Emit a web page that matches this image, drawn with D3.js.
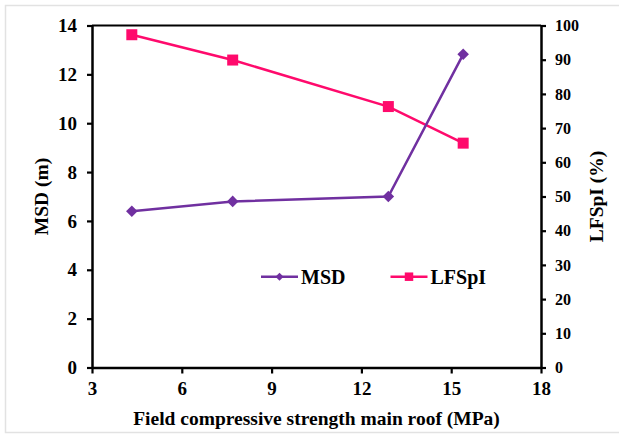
<!DOCTYPE html>
<html>
<head>
<meta charset="utf-8">
<script src="https://cdn.jsdelivr.net/npm/d3@7"></script>
<style>
  html, body { margin: 0; padding: 0; background: #fff; }
  svg { display: block; }
  text { font-family: "Liberation Serif", "Times New Roman", serif; font-weight: bold; fill: #000; }
</style>
</head>
<body>
<svg id="chart" width="619" height="435"></svg>
<script>
// Field compressive strength of the main roof (MPa)
const strength = [4.33, 7.7, 12.9, 15.4];
// Maximum subsidence depth, MSD (m) — left axis
const msd = [6.4, 6.8, 7.0, 12.82];
// LFSpI (%) — right axis
const lfspi = [97.3, 89.9, 76.3, 65.6];

const xTicks = [3, 6, 9, 12, 15, 18];
const yLeftTicks = [0, 2, 4, 6, 8, 10, 12, 14];
const yRightTicks = [0, 10, 20, 30, 40, 50, 60, 70, 80, 90, 100];

const msdColor = "#7030a0";
const lfspiColor = "#ff0a6c";
const serif = '"Liberation Serif", "Times New Roman", serif';

const svg = d3.select("#chart");
const W = 619;
const plot = { left: 92, right: 541, top: 25.5, bottom: 367.5 };

// light frame around the figure
svg.append("path")
  .attr("d", `M${W},5.5 H5.5 V432.5 H${W}`)
  .attr("fill", "none")
  .attr("stroke", "#e2e2e2")
  .attr("stroke-width", 1.5);

const x = d3.scaleLinear().domain([3, 18]).range([plot.left, plot.right]);
const yL = d3.scaleLinear().domain([0, 14]).range([plot.bottom, plot.top]);
const yR = d3.scaleLinear().domain([0, 100]).range([plot.bottom, plot.top]);

// top border of the plot area
svg.append("line")
  .attr("x1", plot.left).attr("x2", plot.right)
  .attr("y1", plot.top).attr("y2", plot.top)
  .attr("stroke", "#000").attr("stroke-width", 2.2);

function styleAxis(size) {
  return g => {
    g.attr("font-family", serif).attr("font-weight", "bold");
    g.select(".domain").attr("stroke", "#000").attr("stroke-width", 2.5);
    g.selectAll(".tick line").attr("stroke", "#000").attr("stroke-width", 2.2);
    g.selectAll(".tick text")
      .style("font-family", serif)
      .style("font-weight", "bold")
      .style("font-size", size + "px")
      .attr("fill", "#000");
  };
}

svg.append("g")
  .attr("transform", `translate(0,${plot.bottom})`)
  .call(d3.axisBottom(x).tickValues(xTicks).tickSize(6).tickPadding(8).tickSizeOuter(0))
  .call(styleAxis(19));

svg.append("g")
  .attr("transform", `translate(${plot.left},0)`)
  .call(d3.axisLeft(yL).tickValues(yLeftTicks).tickSize(5).tickPadding(10).tickSizeOuter(0))
  .call(styleAxis(19));

svg.append("g")
  .attr("transform", `translate(${plot.right},0)`)
  .call(d3.axisRight(yR).tickValues(yRightTicks).tickSize(5).tickPadding(9).tickSizeOuter(0))
  .call(styleAxis(16));

// axis titles
svg.append("text")
  .attr("x", (plot.left + plot.right) / 2)
  .attr("y", 425)
  .attr("text-anchor", "middle")
  .style("font-size", "19.5px")
  .text("Field compressive strength main roof (MPa)");

svg.append("text")
  .attr("transform", `translate(48,${(plot.top + plot.bottom) / 2}) rotate(-90)`)
  .attr("text-anchor", "middle")
  .style("font-size", "19.5px")
  .text("MSD (m)");

svg.append("text")
  .attr("transform", `translate(603,${(plot.top + plot.bottom) / 2}) rotate(-90)`)
  .attr("text-anchor", "middle")
  .style("font-size", "19.5px")
  .text("LFSpI (%)");

// series
const msdData = strength.map((s, i) => [s, msd[i]]);
const lfData = strength.map((s, i) => [s, lfspi[i]]);

svg.append("path")
  .datum(lfData)
  .attr("fill", "none")
  .attr("stroke", lfspiColor)
  .attr("stroke-width", 2.5)
  .attr("d", d3.line().x(d => x(d[0])).y(d => yR(d[1])));

svg.append("path")
  .datum(msdData)
  .attr("fill", "none")
  .attr("stroke", msdColor)
  .attr("stroke-width", 2.5)
  .attr("d", d3.line().x(d => x(d[0])).y(d => yL(d[1])));

const diamond = d3.symbol().type(d3.symbolDiamond2).size(85);
const square = d3.symbol().type(d3.symbolSquare).size(121);

svg.selectAll(".lf-mark").data(lfData).enter().append("path")
  .attr("class", "lf-mark")
  .attr("d", square)
  .attr("transform", d => `translate(${x(d[0])},${yR(d[1])})`)
  .attr("fill", lfspiColor);

svg.selectAll(".msd-mark").data(msdData).enter().append("path")
  .attr("class", "msd-mark")
  .attr("d", diamond)
  .attr("transform", d => `translate(${x(d[0])},${yL(d[1])})`)
  .attr("fill", msdColor);

// legend
const legendY = 276.7;
const legend = [
  { name: "MSD", color: msdColor, sym: d3.symbol().type(d3.symbolDiamond2).size(40), x0: 261 },
  { name: "LFSpI", color: lfspiColor, sym: d3.symbol().type(d3.symbolSquare).size(72), x0: 390.5 }
];
legend.forEach(l => {
  svg.append("line")
    .attr("x1", l.x0).attr("x2", l.x0 + 37)
    .attr("y1", legendY).attr("y2", legendY)
    .attr("stroke", l.color).attr("stroke-width", 2.5);
  svg.append("path")
    .attr("d", l.sym)
    .attr("transform", `translate(${l.x0 + 18.5},${legendY})`)
    .attr("fill", l.color);
  svg.append("text")
    .attr("x", l.x0 + 40)
    .attr("y", legendY)
    .attr("dy", "0.35em")
    .style("font-size", "20px")
    .text(l.name);
});
</script>
</body>
</html>
